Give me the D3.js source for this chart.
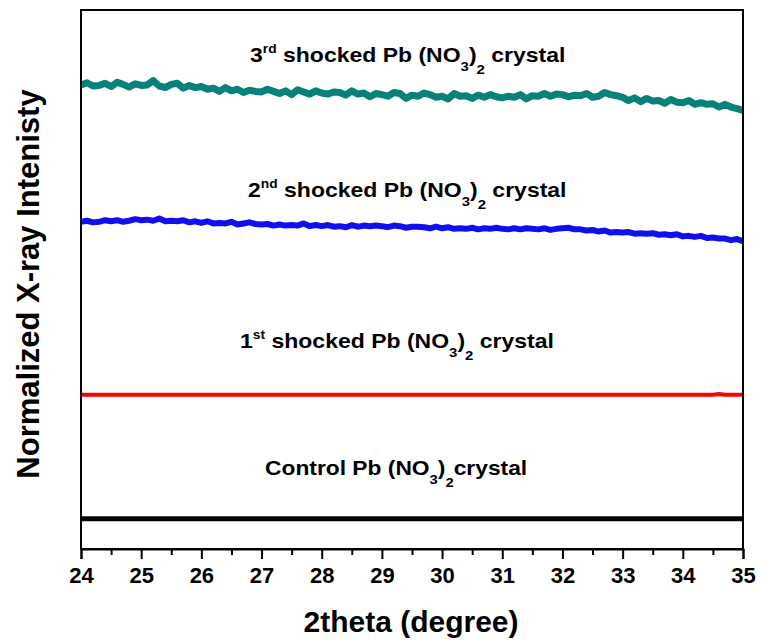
<!DOCTYPE html>
<html>
<head>
<meta charset="utf-8">
<script src="https://cdn.jsdelivr.net/npm/d3@7"></script>
<style>
  body { margin: 0; background: #fff; }
  text { font-family: "Liberation Sans", Arial, sans-serif; font-weight: bold; }
</style>
</head>
<body>
<div id="chart"></div>
<script>
// x positions, 24.0 .. 35.0 every 0.1
const xs = d3.range(0, 111).map(i => +(24 + i * 0.1).toFixed(1));

// 3rd shocked (teal)
const thirdShock = [
  86.1, 86.5, 85.9, 86.0, 86.4, 85.8, 86.6, 86.2, 85.7, 86.3,
  86.0, 86.1, 86.9, 85.9, 85.6, 86.2, 86.4, 85.5, 86.0, 85.6,
  85.8, 85.3, 85.5, 84.9, 85.6, 85.0, 85.3, 84.7, 85.1, 84.9,
  84.8, 85.3, 84.9, 84.5, 85.0, 84.3, 85.2, 84.8, 84.4, 85.0,
  84.6, 84.4, 84.8, 84.7, 84.2, 85.0, 84.4, 84.6, 83.9, 84.5,
  84.3, 84.0, 84.7, 84.5, 83.6, 84.2, 84.0, 84.6, 84.3, 83.8,
  84.0, 83.5, 84.5, 84.0, 84.1, 83.6, 84.2, 83.8, 84.3, 83.9,
  83.7, 84.0, 83.8, 84.3, 83.5, 84.1, 84.0, 84.5, 84.0, 84.4,
  84.3, 83.9, 84.2, 84.1, 84.5, 83.8, 84.0, 84.7, 84.3, 84.1,
  83.8, 83.2, 83.7, 83.0, 83.6, 83.1, 83.2, 82.7, 83.4, 82.9,
  82.8, 83.2, 82.5, 82.8, 82.5, 82.6, 82.0, 82.5, 82.0, 81.7,
  81.4
];

// 2nd shocked (blue)
const secondShock = [
  60.7, 60.9, 60.6, 60.7, 61.0, 60.8, 61.0, 60.7, 60.9, 61.2,
  61.0, 61.1, 60.9, 61.3, 60.8, 60.9, 60.8, 61.0, 60.6, 60.8,
  60.5, 60.8, 60.4, 60.5, 60.4, 60.7, 60.2, 60.4, 60.6, 60.3,
  60.2, 60.3, 60.0, 60.2, 60.0, 60.1, 60.0, 60.4, 59.9, 60.1,
  59.9, 60.1, 59.8, 59.9, 59.7, 60.1, 59.8, 60.0, 59.9, 60.0,
  59.9, 59.7, 60.0, 59.9, 59.6, 59.8, 59.8, 59.7, 59.5, 59.8,
  59.5, 59.7, 59.4, 59.5, 59.4, 59.6, 59.3, 59.5, 59.4, 59.6,
  59.4, 59.3, 59.5, 59.3, 59.5, 59.4, 59.3, 59.5, 59.2, 59.4,
  59.5, 59.6, 59.3, 59.3, 59.1, 59.2, 58.9, 59.1, 58.7, 58.8,
  58.7, 58.8, 58.5, 58.6, 58.5, 58.6, 58.3, 58.4, 58.2, 58.4,
  58.0, 58.1, 57.9, 58.1, 57.7, 57.8, 57.6, 57.6, 57.3, 57.5,
  57.1
];

// 1st shocked (red) - flat, tiny kink near 34.6
const firstX = [24, 34.5, 34.6, 34.7, 35];
const firstShock = [28.6, 28.6, 28.75, 28.6, 28.6];

// control (black) - flat
const controlX = [24, 35];
const control = [5.6, 5.6];

const xTicks = d3.range(24, 36);
const xMinor = d3.range(24.5, 35, 1);

const width = 762, height = 640;
const margin = { top: 10, right: 19, bottom: 91, left: 81 };
const w = width - margin.left - margin.right;
const h = height - margin.top - margin.bottom;

const svg = d3.select('#chart').append('svg')
  .attr('width', width)
  .attr('height', height);

const g = svg.append('g')
  .attr('transform', `translate(${margin.left},${margin.top})`);

const x = d3.scaleLinear().domain([24, 35]).range([0, w]);
const y = d3.scaleLinear().domain([0, 100]).range([h, 0]);

const line = d3.line().x(d => x(d[0])).y(d => y(d[1]));

const series = [
  { xv: controlX, yv: control, color: '#000000', sw: 5 },
  { xv: firstX, yv: firstShock, color: '#ff0000', sw: 4 },
  { xv: xs, yv: secondShock, color: '#1010ee', sw: 6 },
  { xv: xs, yv: thirdShock, color: '#078279', sw: 7 }
];

series.forEach(s => {
  g.append('path')
    .datum(s.xv.map((v, i) => [v, s.yv[i]]))
    .attr('fill', 'none')
    .attr('stroke', s.color)
    .attr('stroke-width', s.sw)
    .attr('stroke-linejoin', 'round')
    .attr('d', line);
});

// frame
g.append('rect')
  .attr('width', w).attr('height', h)
  .attr('fill', 'none').attr('stroke', '#000').attr('stroke-width', 2);

// bottom axis, major + minor ticks
const xAxis = g.append('g')
  .attr('transform', `translate(0,${h})`)
  .call(d3.axisBottom(x).tickValues(xTicks).tickSize(10).tickPadding(8).tickFormat(d3.format('d')));
xAxis.select('.domain').attr('stroke-width', 2);
xAxis.selectAll('.tick line').attr('stroke-width', 2);
xAxis.selectAll('text').attr('font-size', 22).attr('fill', '#000')
  .style('font-family', '"Liberation Sans", Arial, sans-serif').style('font-weight', 'bold');

const xMinorAxis = g.append('g')
  .attr('transform', `translate(0,${h})`)
  .call(d3.axisBottom(x).tickValues(xMinor).tickSize(6).tickFormat(''));
xMinorAxis.select('.domain').remove();
xMinorAxis.selectAll('.tick line').attr('stroke-width', 2);

// axis titles
svg.append('text')
  .attr('x', 411).attr('y', 632)
  .attr('text-anchor', 'middle')
  .attr('font-size', 30)
  .text('2theta (degree)');

svg.append('text')
  .attr('transform', 'translate(39,284) rotate(-90)')
  .attr('text-anchor', 'middle')
  .attr('font-size', 31)
  .text('Normalized X-ray Intenisty');

// curve labels with sup/sub parts (glyphs drawn a bit wide, like the source)
const labels = [
  { x: 250, y: 62, pre: '3', sup: 'rd' },
  { x: 248, y: 197, pre: '2', sup: 'nd' },
  { x: 240, y: 348, pre: '1', sup: 'st' }
];

function addFormula(t, endGap) {
  t.append('tspan').text('shocked Pb (NO');
  t.append('tspan').attr('font-size', 13).attr('dy', 9).text('3');
  t.append('tspan').attr('dy', -9).text(')');
  t.append('tspan').attr('font-size', 13).attr('dy', 12).text('2');
  t.append('tspan').attr('dy', -12).text(endGap + 'crystal');
}

labels.forEach(l => {
  const t = svg.append('text')
    .attr('transform', `translate(${l.x},${l.y}) scale(1.15,1)`)
    .attr('font-size', 20)
    .style('white-space', 'pre');
  t.append('tspan').text(l.pre);
  t.append('tspan').attr('font-size', 12).attr('dy', -9).text(l.sup);
  t.append('tspan').attr('dy', 9).text(' ');
  addFormula(t, ' ');
});

const ctl = svg.append('text')
  .attr('transform', 'translate(265,475) scale(1.14,1)')
  .attr('font-size', 20)
  .style('white-space', 'pre');
ctl.append('tspan').text('Control Pb (NO');
ctl.append('tspan').attr('font-size', 13).attr('dy', 9).text('3');
ctl.append('tspan').attr('dy', -9).text(')');
ctl.append('tspan').attr('font-size', 13).attr('dy', 12).text('2');
ctl.append('tspan').attr('dy', -12).text('crystal');
</script>
</body>
</html>
